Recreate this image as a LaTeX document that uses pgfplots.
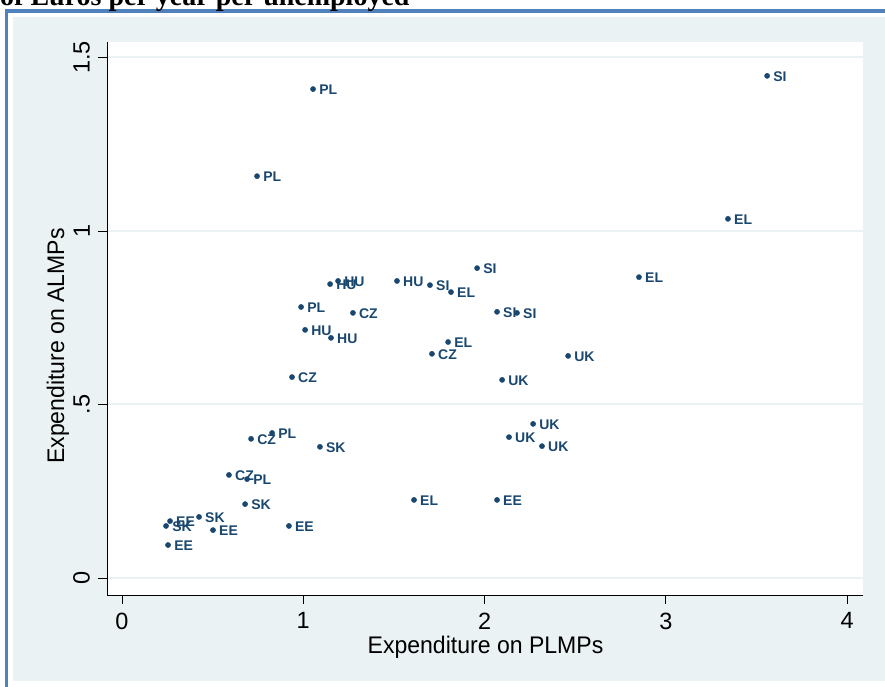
\documentclass[border=0pt]{standalone}
\usepackage{fontspec}
\setmainfont{Liberation Sans}
\newfontfamily\titlefont{Liberation Serif}
\usepackage{pgfplots}
\pgfplotsset{compat=1.18}
\definecolor{navy}{RGB}{26,71,111}
\definecolor{bgcol}{RGB}{234,242,243}
\definecolor{bordercol}{RGB}{79,129,189}

\pgfplotstableread{
x y label
3.559 1.447 SI
1.054 1.409 PL
0.745 1.158 PL
3.343 1.035 EL
2.852 0.867 EL
1.959 0.893 SI
1.517 0.856 HU
1.699 0.844 SI
1.815 0.824 EL
1.148 0.847 HU
1.192 0.856 HU
0.988 0.781 PL
1.274 0.764 CZ
1.010 0.715 HU
1.153 0.692 HU
2.069 0.767 SI
2.179 0.764 SI
1.799 0.680 EL
1.710 0.646 CZ
0.938 0.579 CZ
2.461 0.640 UK
2.097 0.571 UK
2.268 0.444 UK
2.135 0.406 UK
2.317 0.380 UK
0.828 0.418 PL
0.712 0.401 CZ
1.092 0.378 SK
0.590 0.297 CZ
0.690 0.285 PL
0.679 0.213 SK
1.611 0.225 EL
2.069 0.225 EE
0.425 0.176 SK
0.265 0.164 EE
0.243 0.150 SK
0.502 0.138 EE
0.921 0.150 EE
0.254 0.095 EE
}\datatable

\begin{document}
\begin{tikzpicture}[x=1pt,y=1pt]
\useasboundingbox (0,0) rectangle (885,687);
\clip (0,0) rectangle (885,687);
\fill[white] (0,0) rectangle (885,687);
\fill[bgcol] (13,6) rectangle (885,670);
\draw[bordercol, line width=3.2pt] (6.5,0) -- (6.5,676) -- (885,676);
\node[anchor=base west, inner sep=0, font=\titlefont\bfseries\fontsize{28}{28}\selectfont] at (0,681) {of Euros per year per unemployed};
\begin{axis}[
 at={(107pt,92pt)}, anchor=south west, scale only axis, width=756pt, height=553pt,
 xmin=-0.0828, xmax=4.088, ymin=-0.049, ymax=1.5447,
 axis background/.style={fill=white},
 axis x line*=bottom, axis y line*=left, axis line style={black, line width=0.8pt, -},
 xtick={0,1,2,3,4}, xticklabels={0,1,2,3,4},
 ytick={0,0.5,1,1.5}, yticklabels={0,.5,1,1.5},
 tick align=outside, major tick length=9pt, tick style={black, line width=0.8pt},
 ymajorgrids, grid style={bgcol, line width=2pt},
 ticklabel style={font=\fontsize{23.5}{23.5}\selectfont},
 yticklabel style={rotate=90, anchor=south, inner sep=8pt},
 xticklabel style={anchor=north, inner sep=8.5pt},
 clip=false,
]
\addplot[only marks, mark=*, mark size=2.6pt, color=navy,
  nodes near coords, point meta=explicit symbolic,
  every node near coord/.append style={anchor=west, inner sep=0pt, xshift=6pt, yshift=-1pt, text=navy, font=\fontsize{14}{14}\selectfont\bfseries}]
  table[x=x, y=y, meta=label] {\datatable};
\end{axis}
\node[anchor=base, xscale=0.96, font=\fontsize{24}{24}\selectfont] at (485.5,33) {Expenditure on PLMPs};
\node[anchor=base, rotate=90, xscale=0.96, font=\fontsize{24}{24}\selectfont] at (64,341) {Expenditure on ALMPs};
\end{tikzpicture}
\end{document}
